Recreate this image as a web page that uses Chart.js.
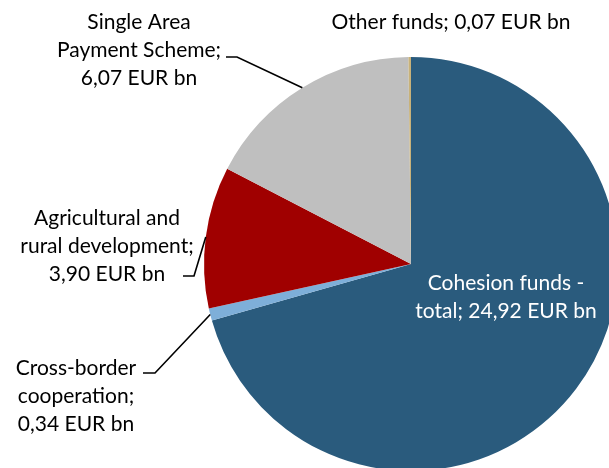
<!DOCTYPE html>
<html>
<head>
<meta charset="utf-8">
<script src="https://cdn.jsdelivr.net/npm/chart.js@4"></script>
<style>
  html, body { margin: 0; padding: 0; background: #fff; overflow: hidden; }
  #wrap { width: 609px; height: 468px; overflow: hidden; }
  canvas { display: block; }
</style>
</head>
<body>
<div id="wrap"><canvas id="pie" width="630" height="480"></canvas></div>
<script>
// slices, clockwise from 12 o'clock
var categories = ['Cohesion funds - total', 'Cross-border cooperation', 'Agricultural and rural development', 'Single Area Payment Scheme', 'Other funds'];
var values = [24.92, 0.34, 3.90, 6.07, 0.07];
var sliceColors = ['#2A5B7D', '#7EAFD9', '#A00000', '#BFBFBF', '#C8B27A'];

// label text, split the way the original wraps it
var labelLines = [
    ['Cohesion funds -', 'total; 24,92 EUR bn'],
    ['Cross-border', 'cooperation;', '0,34 EUR bn'],
    ['Agricultural and', 'rural development;', '3,90 EUR bn'],
    ['Single Area', 'Payment Scheme;', '6,07 EUR bn'],
    ['Other funds; 0,07 EUR bn']
];

// where each label sits, plus leader line (elbow + end), null = none
var labelSpots = [
    { x: 506, y: 283, color: '#fff', leader: null },
    { x: 76, y: 368, color: '#000', leader: [[155, 373], [143, 373]] },
    { x: 107, y: 218, color: '#000', leader: [[194, 276], [183, 276]] },
    { x: 139, y: 22, color: '#000', leader: [[237, 57], [226, 57]] },
    { x: 451, y: 22, color: '#000', leader: null }
];

var pieLabels = {
    id: 'pieLabels',
    afterDraw: function(chart) {
        var ctx = chart.ctx;
        var arcs = chart.getDatasetMeta(0).data;
        ctx.save();
        ctx.font = '21px Lato, "Noto Sans", sans-serif';
        ctx.textAlign = 'center';
        ctx.textBaseline = 'middle';
        arcs.forEach(function(arc, i) {
            var spot = labelSpots[i];
            if (spot.leader) {
                var p = arc.getProps(['x', 'y', 'startAngle', 'endAngle', 'outerRadius'], true);
                var mid = (p.startAngle + p.endAngle) / 2;
                ctx.beginPath();
                ctx.moveTo(p.x + Math.cos(mid) * p.outerRadius, p.y + Math.sin(mid) * p.outerRadius);
                spot.leader.forEach(function(pt) { ctx.lineTo(pt[0], pt[1]); });
                ctx.strokeStyle = '#000';
                ctx.lineWidth = 1.6;
                ctx.stroke();
            }
            ctx.fillStyle = spot.color;
            labelLines[i].forEach(function(line, j) {
                ctx.fillText(line, spot.x, spot.y + j * 28);
            });
        });
        ctx.restore();
    }
};

new Chart(document.getElementById('pie').getContext('2d'), {
    type: 'pie',
    data: {
        labels: categories,
        datasets: [{
            data: values,
            backgroundColor: sliceColors,
            borderWidth: 0
        }]
    },
    options: {
        responsive: false,
        animation: false,
        layout: { padding: { left: 204, top: 57, right: 12, bottom: 9 } },
        plugins: {
            legend: { display: false },
            tooltip: { enabled: false }
        }
    },
    plugins: [pieLabels]
});
</script>
</body>
</html>
